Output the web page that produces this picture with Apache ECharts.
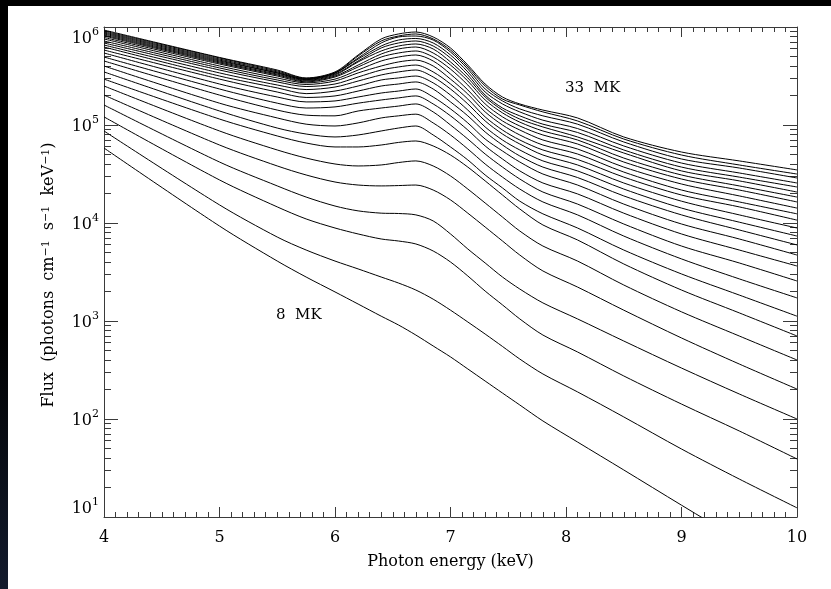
<!DOCTYPE html>
<html>
<head>
<meta charset="utf-8">
<script src="https://cdn.jsdelivr.net/npm/echarts@6/dist/echarts.min.js"></script>
<style>
  html, body { margin: 0; padding: 0; }
  body {
    width: 831px; height: 589px; overflow: hidden;
    background: linear-gradient(180deg, #000 0%, #000 55%, #131b2d 100%);
  }
  #chart { position: absolute; left: 8px; top: 6px; width: 823px; height: 583px; background: #fff; }
</style>
</head>
<body>
<div id="chart"></div>
<script>
  // photon energy columns (keV)
  var energy = [4, 5, 5.5, 5.75, 6.0, 6.2, 6.4, 6.55, 6.7, 6.85, 7.0, 7.15, 7.3, 7.45, 7.6, 7.8, 8.1, 8.5, 9, 9.5, 10]
  // flux per temperature (photons cm-1 s-1 keV-1)
  var flux08 = [5.82e4, 9.31e3, 4.09e3, 2.81e3, 1.98e3, 1.49e3, 1.12e3, 910, 719, 556, 430, 324, 244, 184, 139, 95.5, 58.2, 30.2, 13.2, 5.82, 2.56]
  var flux09 = [8.69e4, 1.53e4, 7.19e3, 5.30e3, 4.09e3, 3.40e3, 2.81e3, 2.44e3, 2.07e3, 1.67e3, 1.29e3, 977, 736, 550, 409, 288, 189, 105, 49.4, 24.4, 12.4]
  var flux10 = [1.21e5, 2.75e4, 1.46e4, 1.10e4, 8.89e3, 7.73e3, 6.87e3, 6.55e3, 6.11e3, 5.18e3, 4.00e3, 2.88e3, 2.02e3, 1.46e3, 1.05e3, 719, 483, 275, 142, 75.5, 39.1]
  var flux11 = [1.60e5, 4.19e4, 2.39e4, 1.84e4, 1.49e4, 1.33e4, 1.26e4, 1.25e4, 1.21e4, 1.05e4, 7.73e3, 5.43e3, 3.91e3, 2.81e3, 2.12e3, 1.53e3, 1.05e3, 625, 331, 180, 100]
  var flux12 = [2.02e5, 6.25e4, 3.82e4, 3.09e4, 2.62e4, 2.44e4, 2.39e4, 2.41e4, 2.44e4, 2.17e4, 1.72e4, 1.26e4, 9.10e3, 6.55e3, 4.71e3, 3.24e3, 2.22e3, 1.29e3, 671, 364, 202]
  var flux13 = [2.50e5, 8.69e4, 5.56e4, 4.60e4, 4.00e4, 3.82e4, 3.91e4, 4.14e4, 4.30e4, 3.82e4, 3.02e4, 2.22e4, 1.60e4, 1.15e4, 8.28e3, 5.82e3, 4.09e3, 2.33e3, 1.24e3, 703, 400]
  var flux14 = [2.94e5, 1.15e5, 7.73e4, 6.55e4, 5.97e4, 5.97e4, 6.25e4, 6.64e4, 6.87e4, 6.11e4, 4.94e4, 3.72e4, 2.69e4, 1.93e4, 1.39e4, 9.55e3, 6.71e3, 3.82e3, 2.07e3, 1.21e3, 703]
  var flux15 = [3.48e5, 1.39e5, 9.31e4, 8.09e4, 7.55e4, 7.91e4, 8.69e4, 9.31e4, 9.77e4, 7.91e4, 5.97e4, 4.40e4, 3.09e4, 2.28e4, 1.67e4, 1.24e4, 8.89e3, 5.30e3, 3.02e3, 1.84e3, 1.12e3]
  var flux16 = [4.00e5, 1.67e5, 1.18e5, 1.02e5, 9.77e4, 1.05e5, 1.18e5, 1.24e5, 1.29e5, 1.05e5, 7.91e4, 5.69e4, 4.00e4, 2.94e4, 2.22e4, 1.64e4, 1.21e4, 7.36e3, 4.30e3, 2.69e3, 1.72e3]
  var flux17 = [4.50e5, 2.02e5, 1.42e5, 1.26e5, 1.24e5, 1.39e5, 1.49e5, 1.56e5, 1.64e5, 1.36e5, 1.00e5, 7.19e4, 5.06e4, 3.72e4, 2.81e4, 2.07e4, 1.56e4, 9.77e3, 5.82e3, 3.91e3, 2.56e3]
  var flux18 = [4.94e5, 2.33e5, 1.67e5, 1.49e5, 1.53e5, 1.67e5, 1.80e5, 1.89e5, 1.98e5, 1.64e5, 1.24e5, 8.89e4, 6.11e4, 4.50e4, 3.40e4, 2.56e4, 1.98e4, 1.26e4, 7.73e3, 5.30e3, 3.64e3]
  var flux19 = [5.43e5, 2.62e5, 1.93e5, 1.72e5, 1.76e5, 1.93e5, 2.12e5, 2.22e5, 2.33e5, 1.93e5, 1.46e5, 1.05e5, 7.19e4, 5.43e4, 4.19e4, 3.16e4, 2.44e4, 1.56e4, 9.77e3, 6.87e3, 4.71e3]
  var flux20 = [5.82e5, 2.94e5, 2.17e5, 1.91e5, 1.98e5, 2.22e5, 2.50e5, 2.62e5, 2.75e5, 2.33e5, 1.72e5, 1.24e5, 8.49e4, 6.25e4, 4.83e4, 3.72e4, 2.91e4, 1.89e4, 1.21e4, 8.49e3, 5.97e3]
  var flux21 = [6.25e5, 3.16e5, 2.39e5, 2.09e5, 2.22e5, 2.50e5, 2.88e5, 3.02e5, 3.16e5, 2.69e5, 2.02e5, 1.42e5, 9.55e4, 7.03e4, 5.56e4, 4.30e4, 3.40e4, 2.22e4, 1.42e4, 1.02e4, 7.36e3]
  var flux22 = [6.55e5, 3.40e5, 2.56e5, 2.30e5, 2.44e5, 2.81e5, 3.24e5, 3.48e5, 3.64e5, 3.09e5, 2.33e5, 1.64e5, 1.10e5, 8.09e4, 6.40e4, 4.94e4, 3.91e4, 2.56e4, 1.67e4, 1.21e4, 8.89e3]
  var flux23 = [6.87e5, 3.64e5, 2.75e5, 2.47e5, 2.62e5, 3.09e5, 3.64e5, 3.91e5, 4.09e5, 3.48e5, 2.62e5, 1.84e5, 1.21e5, 8.89e4, 7.03e4, 5.56e4, 4.45e4, 2.94e4, 1.93e4, 1.46e4, 1.07e4]
  var flux24 = [7.20e5, 3.82e5, 2.88e5, 2.59e5, 2.81e5, 3.40e5, 4.00e5, 4.40e5, 4.60e5, 4.00e5, 2.94e5, 2.07e5, 1.36e5, 1.00e5, 7.91e4, 6.25e4, 5.06e4, 3.31e4, 2.17e4, 1.64e4, 1.24e4]
  var flux25 = [7.55e5, 4.00e5, 3.02e5, 2.69e5, 2.94e5, 3.64e5, 4.50e5, 4.94e5, 5.18e5, 4.50e5, 3.31e5, 2.28e5, 1.49e5, 1.10e5, 8.89e4, 7.03e4, 5.69e4, 3.72e4, 2.50e4, 1.89e4, 1.42e4]
  var flux26 = [7.82e5, 4.19e5, 3.16e5, 2.75e5, 3.09e5, 3.91e5, 4.94e5, 5.43e5, 5.69e5, 4.94e5, 3.72e5, 2.56e5, 1.64e5, 1.21e5, 9.77e4, 7.91e4, 6.40e4, 4.19e4, 2.81e4, 2.17e4, 1.64e4]
  var flux27 = [8.09e5, 4.30e5, 3.24e5, 2.81e5, 3.16e5, 4.09e5, 5.30e5, 5.97e5, 6.25e5, 5.43e5, 4.09e5, 2.81e5, 1.80e5, 1.33e5, 1.07e5, 8.69e4, 7.03e4, 4.60e4, 3.09e4, 2.39e4, 1.84e4]
  var flux28 = [8.28e5, 4.40e5, 3.31e5, 2.86e5, 3.24e5, 4.40e5, 5.69e5, 6.40e5, 6.71e5, 5.97e5, 4.40e5, 3.02e5, 1.93e5, 1.42e5, 1.15e5, 9.55e4, 7.55e4, 5.18e4, 3.40e4, 2.69e4, 2.07e4]
  var flux29 = [8.49e5, 4.50e5, 3.40e5, 2.90e5, 3.31e5, 4.50e5, 6.11e5, 6.87e5, 7.20e5, 6.40e5, 4.83e5, 3.24e5, 2.02e5, 1.49e5, 1.24e5, 1.02e5, 8.39e4, 5.56e4, 3.72e4, 2.94e4, 2.33e4]
  var flux30 = [8.69e5, 4.60e5, 3.40e5, 2.93e5, 3.40e5, 4.71e5, 6.40e5, 7.36e5, 7.64e5, 6.87e5, 5.18e5, 3.48e5, 2.17e5, 1.64e5, 1.36e5, 1.12e5, 9.20e4, 6.11e4, 4.09e4, 3.24e4, 2.56e4]
  var flux31 = [8.89e5, 4.71e5, 3.48e5, 2.96e5, 3.40e5, 4.83e5, 6.87e5, 7.91e5, 8.09e5, 7.36e5, 5.56e5, 3.72e5, 2.33e5, 1.76e5, 1.46e5, 1.24e5, 1.02e5, 6.71e4, 4.50e4, 3.64e4, 2.88e4]
  var flux32 = [9.10e5, 4.83e5, 3.56e5, 2.99e5, 3.40e5, 5.06e5, 7.20e5, 8.09e5, 8.49e5, 7.55e5, 5.82e5, 3.91e5, 2.50e5, 1.84e5, 1.60e5, 1.36e5, 1.10e5, 7.19e4, 4.94e4, 3.91e4, 3.16e4]
  var flux33 = [9.31e5, 4.89e5, 3.64e5, 3.02e5, 3.48e5, 5.18e5, 7.55e5, 8.49e5, 8.89e5, 7.91e5, 6.11e5, 4.09e5, 2.62e5, 1.93e5, 1.64e5, 1.42e5, 1.18e5, 7.55e4, 5.30e4, 4.30e4, 3.48e4]

  var temps = [8, 9, 10, 11, 12, 13, 14, 15, 16, 17, 18, 19, 20, 21, 22, 23, 24, 25, 26, 27, 28, 29, 30, 31, 32, 33]
  var fluxSets = [flux08, flux09, flux10, flux11, flux12, flux13, flux14, flux15, flux16, flux17, flux18, flux19, flux20,
    flux21, flux22, flux23, flux24, flux25, flux26, flux27, flux28, flux29, flux30, flux31, flux32, flux33]

  // minor ticks of the log axis
  var minorTickValues = [
    20, 30, 40, 50, 60, 70, 80, 90,
    200, 300, 400, 500, 600, 700, 800, 900,
    2e3, 3e3, 4e3, 5e3, 6e3, 7e3, 8e3, 9e3,
    2e4, 3e4, 4e4, 5e4, 6e4, 7e4, 8e4, 9e4,
    2e5, 3e5, 4e5, 5e5, 6e5, 7e5, 8e5, 9e5
  ]

  var FONT = 'DejaVu Serif'
  var AXIS_COLOR = '#3a3a3a'

  function xAxisCfg (pos, labels) {
    return {
      type: 'value',
      position: pos,
      min: 4,
      max: 10,
      interval: 1,
      axisLine: { show: true, onZero: false, lineStyle: { color: AXIS_COLOR, width: 1 } },
      axisTick: { show: true, inside: true, length: 10, lineStyle: { color: AXIS_COLOR, width: 1 } },
      minorTick: { show: true, splitNumber: 10, length: 5, lineStyle: { color: AXIS_COLOR, width: 1 } },
      splitLine: { show: false },
      minorSplitLine: { show: false },
      axisLabel: { show: labels, margin: 13, color: '#000', fontFamily: FONT, fontSize: 16 },
      name: labels ? 'Photon energy (keV)' : '',
      nameLocation: 'middle',
      nameGap: 37,
      nameTextStyle: { color: '#000', fontFamily: FONT, fontSize: 16 }
    }
  }

  function yAxisCfg (pos, major, labels) {
    var ax = {
      type: 'log',
      logBase: 10,
      position: pos,
      min: 10,
      max: 1e6,
      axisLine: { show: major, onZero: false, lineStyle: { color: AXIS_COLOR, width: 1 } },
      axisTick: { show: true, inside: true, length: major ? 14 : 7, lineStyle: { color: AXIS_COLOR, width: 1 } },
      splitLine: { show: false },
      axisLabel: { show: false }
    }
    if (!major) ax.axisTick.customValues = minorTickValues
    if (labels) {
      ax.axisLabel = {
        show: true,
        margin: 5,
        verticalAlignMinLabel: 'bottom',
        verticalAlignMaxLabel: 'top',
        formatter: function (v) {
          return '{b|10}{s|' + Math.round(Math.log10(v)) + '}'
        },
        rich: {
          b: { fontFamily: FONT, fontSize: 16, color: '#000', lineHeight: 20, verticalAlign: 'bottom' },
          s: { fontFamily: FONT, fontSize: 11, color: '#000', lineHeight: 11, verticalAlign: 'top' }
        }
      }
    }
    return ax
  }

  var series = fluxSets.map(function (f, i) {
    return {
      type: 'line',
      name: temps[i] + ' MK',
      xAxisIndex: 0,
      yAxisIndex: 0,
      data: energy.map(function (e, j) { return [e, f[j]] }),
      showSymbol: false,
      smooth: 0.3,
      clip: true,
      silent: true,
      lineStyle: { color: '#000', width: 1 }
    }
  })

  var chart = echarts.init(document.getElementById('chart'), null, { renderer: 'canvas' })
  chart.setOption({
    animation: false,
    backgroundColor: '#fff',
    grid: { left: 96, right: 34, top: 21, bottom: 72, outerBoundsMode: 'none', containLabel: false },
    xAxis: [xAxisCfg('bottom', true), xAxisCfg('top', false)],
    yAxis: [
      yAxisCfg('left', true, true),
      yAxisCfg('left', false, false),
      yAxisCfg('right', true, false),
      yAxisCfg('right', false, false)
    ],
    graphic: [
      {
        // y axis title with real superscripts
        type: 'text',
        x: 41,
        y: 269,
        rotation: Math.PI / 2,
        style: {
          text: 'Flux  (photons  cm{s|−1}  s{s|−1}  keV{s|−1})',
          align: 'center',
          verticalAlign: 'middle',
          fill: '#000',
          font: '16px "DejaVu Serif"',
          rich: {
            s: { fontFamily: FONT, fontSize: 11, fill: '#000', lineHeight: 10, verticalAlign: 'top' }
          }
        }
      },
      { type: 'text', left: 268, top: 302, style: { text: '8  MK', font: '15px "DejaVu Serif"', fill: '#000' } },
      { type: 'text', left: 557, top: 75, style: { text: '33  MK', font: '15px "DejaVu Serif"', fill: '#000' } }
    ],
    series: series
  })
</script>
</body>
</html>
